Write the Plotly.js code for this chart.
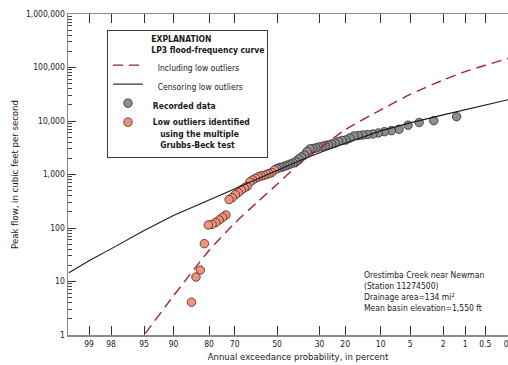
<!DOCTYPE html>
<html>
<head>
<meta charset="utf-8">
<script src="https://cdn.plot.ly/plotly-3.0.1.min.js"></script>
<style>
html,body{margin:0;padding:0;overflow:hidden;background:#fff;width:508px;height:365px;}
#chart{width:540px;height:365px;}
</style>
</head>
<body>
<div id="chart"></div>
<script>
// ---- Data (exceedance probability in percent, peak flow in cfs) ----
const recordedPct = [1.32, 2.63, 3.95, 5.26, 6.58, 7.89, 9.21, 10.53, 11.84, 13.16, 14.47, 15.79, 17.11, 18.42, 19.74, 21.05, 22.37, 23.68, 25.0, 26.32, 27.63, 28.95, 30.26, 31.58, 32.89, 34.21, 35.53, 36.84, 38.16, 39.47, 40.79, 42.11, 43.42, 44.74, 46.05, 47.37, 48.68, 50.0];
const recordedQ = [12030, 10140, 9380, 8340, 7000, 6590, 6310, 5970, 5710, 5590, 5470, 5350, 5240, 4810, 4420, 4320, 4140, 3880, 3720, 3560, 3480, 3340, 3270, 3130, 3060, 3000, 2690, 2310, 2120, 1950, 1750, 1640, 1570, 1500, 1440, 1380, 1350, 1290];

const outlierPct = [51.32, 52.63, 53.95, 55.26, 56.58, 57.89, 59.21, 60.53, 61.84, 63.16, 64.47, 65.79, 67.11, 68.42, 69.74, 71.05, 72.37, 73.68, 75.0, 76.32, 77.63, 78.95, 80.26, 81.58, 82.89, 84.21, 85.53];
const outlierQ = [1210, 1090, 1040, 1000, 960, 935, 900, 850, 790, 725, 600, 560, 515, 460, 420, 370, 340, 175, 158, 141, 126, 117, 114, 51, 16.4, 12.1, 4.1];

const censoredPct = [99.5, 99, 98, 95, 90, 80, 70, 60, 50, 40, 30, 20, 10, 5, 2, 1, 0.5, 0.2, 0.1];
const censoredQ = [14.6, 24.5, 40.7, 90, 172, 335, 550, 832, 1216, 1758, 2541, 3846, 6530, 9230, 13030, 16400, 19950, 25400, 29850];

const includedPct = [96, 95, 90, 85, 80, 70, 60, 50, 40, 30, 20, 10, 5, 2, 1, 0.5, 0.2, 0.1];
const includedQ = [0.63, 1.0, 5.4, 16.2, 38, 123, 296, 656, 1473, 3050, 6870, 16070, 31300, 58400, 83800, 110000, 150600, 183000];

const xTickPct = [99, 98, 95, 90, 80, 70, 50, 30, 20, 10, 5, 2, 1, 0.5, 0.2];
const xTickText = ['99', '98', '95', '90', '80', '70', '50', '30', '20', '10', '5', '2', '1', '0.5', '0.2'];
const yTickVals = [1, 10, 100, 1000, 10000, 100000, 1000000];
const yTickText = ['1', '10', '100', '1,000', '10,000', '100,000', '1,000,000'];

// ---- probability-axis transform (normal quantile of non-exceedance) ----
function invNorm(p) {
  const a = [-3.969683028665376e+01, 2.209460984245205e+02, -2.759285104469687e+02, 1.383577518672690e+02, -3.066479806614716e+01, 2.506628277459239e+00];
  const b = [-5.447609879822406e+01, 1.615858368580409e+02, -1.556989798598866e+02, 6.680131188771972e+01, -1.328068155288572e+01];
  const c = [-7.784894002430293e-03, -3.223964580411365e-01, -2.400758277161838e+00, -2.549732539343734e+00, 4.374664141464968e+00, 2.938163982698783e+00];
  const d = [7.784695709041462e-03, 3.224671290700398e-01, 2.445134137142996e+00, 3.754408661907416e+00];
  const pl = 0.02425, ph = 1 - pl;
  let q, r;
  if (p < pl) { q = Math.sqrt(-2 * Math.log(p)); return (((((c[0]*q+c[1])*q+c[2])*q+c[3])*q+c[4])*q+c[5]) / ((((d[0]*q+d[1])*q+d[2])*q+d[3])*q+1); }
  if (p <= ph) { q = p - 0.5; r = q*q; return (((((a[0]*r+a[1])*r+a[2])*r+a[3])*r+a[4])*r+a[5])*q / (((((b[0]*r+b[1])*r+b[2])*r+b[3])*r+b[4])*r+1); }
  q = Math.sqrt(-2 * Math.log(1 - p));
  return -(((((c[0]*q+c[1])*q+c[2])*q+c[3])*q+c[4])*q+c[5]) / ((((d[0]*q+d[1])*q+d[2])*q+d[3])*q+1);
}
const zx = pct => invNorm(1 - pct / 100);

const FONT = '"Liberation Sans Narrow", "DejaVu Sans Condensed", "Arial Narrow", sans-serif';
const NB = '\u00a0';
const pad = n => NB.repeat(n);

const minorVals = [];
for (let e = 0; e < 6; e++) for (let k = 2; k <= 9; k++) minorVals.push(k * Math.pow(10, e));

const traces = [
  { x: recordedPct.map(zx), y: recordedQ, mode: 'markers', type: 'scatter',
    name: pad(2) + '<b>Recorded data</b>', legendrank: 3,
    marker: { size: 8.5, color: '#8e8e8e', line: { color: '#2b2b2b', width: 0.8 } } },
  { x: outlierPct.map(zx), y: outlierQ, mode: 'markers', type: 'scatter',
    name: pad(2) + '<b>Low outliers identified</b><br>' + pad(5) + '<b>using the multiple</b><br>' + pad(5) + '<b>Grubbs-Beck test</b>', legendrank: 4,
    marker: { size: 8.5, color: '#f4917b', line: { color: '#3a2a26', width: 0.8 } } },
  { x: censoredPct.map(zx), y: censoredQ, mode: 'lines', type: 'scatter',
    name: pad(4) + 'Censoring low outliers', legendrank: 2,
    line: { color: '#1a1a1a', width: 1.1 } },
  { x: includedPct.map(zx), y: includedQ, mode: 'lines', type: 'scatter',
    name: pad(4) + 'Including low outliers', legendrank: 1,
    line: { color: '#a3262a', width: 1.4, dash: '10px,6px', shape: 'spline', smoothing: 0.6 } }
];

const L = 68, R = 528, W = 540;
const pxPerZ = 80.85, z50px = 277.1;
const xr = [(L - z50px) / pxPerZ, (R - z50px) / pxPerZ];

const layout = {
  width: W, height: 365,
  margin: { l: L, r: W - R, t: 14, b: 30 },
  paper_bgcolor: '#fff', plot_bgcolor: '#fff',
  font: { family: FONT, size: 8.5, color: '#1a1a1a' },
  showlegend: true,
  legend: {
    x: (107 - L) / (R - L), y: (335 - 30) / 321, xanchor: 'left', yanchor: 'top',
    bgcolor: '#fff', bordercolor: '#3a3a3a', borderwidth: 1,
    font: { family: FONT, size: 8.5, color: '#1a1a1a' },
    title: { text: pad(17) + '<b>EXPLANATION</b><br>' + pad(17) + '<b>LP3 flood-frequency curve</b>',
             side: 'top', font: { family: FONT, size: 8.5, color: '#1a1a1a' } },
    traceorder: 'normal', tracegroupgap: 0, itemwidth: 30, valign: 'top'
  },
  xaxis: {
    range: xr, showgrid: false, zeroline: false,
    showline: true, linecolor: '#8a8a8a', linewidth: 1.5, mirror: 'ticks',
    ticks: 'inside', ticklen: 9, tickcolor: '#333', tickwidth: 1,
    tickmode: 'array', tickvals: xTickPct.map(zx), ticktext: xTickText,
    tickfont: { family: FONT, size: 8.5, color: '#1a1a1a' },
    title: { text: 'Annual exceedance probability, in percent', font: { family: FONT, size: 9.5, color: '#1a1a1a' }, standoff: 5 }
  },
  yaxis: {
    type: 'log', range: [0, 6], showgrid: false, zeroline: false,
    showline: true, linecolor: '#8a8a8a', linewidth: 1.5, mirror: true,
    ticks: 'inside', ticklen: 8, tickcolor: '#333', tickwidth: 1,
    tickmode: 'array', tickvals: yTickVals, ticktext: yTickText,
    tickfont: { family: FONT, size: 8.5, color: '#1a1a1a' },
    minor: { tickmode: 'array', tickvals: minorVals, ticks: 'inside', ticklen: 4, tickcolor: '#444', showgrid: false },
    title: { text: 'Peak flow, in cubic feet per second', font: { family: FONT, size: 9.5, color: '#1a1a1a' }, standoff: 5 }
  },
  yaxis2: {
    type: 'log', range: [0, 6], overlaying: 'y', anchor: 'free', side: 'right',
    position: (505.7 - L) / (R - L), showgrid: false, zeroline: false,
    showline: true, linecolor: '#8a8a8a', linewidth: 1.5,
    ticks: 'outside', ticklen: 8, tickcolor: '#333', tickwidth: 1,
    tickmode: 'array', tickvals: yTickVals, showticklabels: false,
    minor: { tickmode: 'array', tickvals: minorVals, ticks: 'outside', ticklen: 4, tickcolor: '#444', showgrid: false }
  },
  annotations: [{
    xref: 'paper', yref: 'paper', x: (362 - L) / (R - L), y: (335 - 268) / 321,
    xanchor: 'left', yanchor: 'top', align: 'left', showarrow: false,
    text: 'Orestimba Creek near Newman<br>(Station 11274500)<br>Drainage area=134 mi\u00b2<br>Mean basin elevation=1,550 ft',
    font: { family: FONT, size: 8.5, color: '#1a1a1a' }
  }]
};

Plotly.newPlot('chart', traces, layout, { staticPlot: true, displayModeBar: false });
</script>
</body>
</html>
